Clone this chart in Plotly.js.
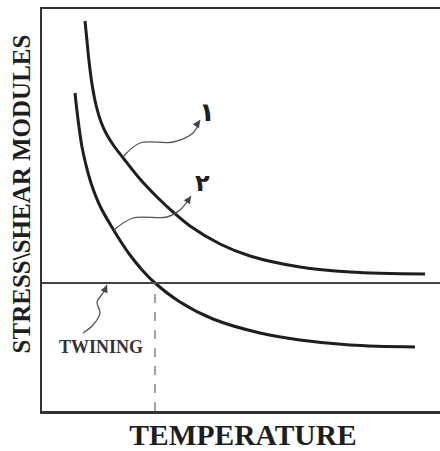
<!DOCTYPE html>
<html><head><meta charset="utf-8">
<script src="https://cdn.plot.ly/plotly-3.0.1.min.js"></script>
<style>html,body{margin:0;padding:0;overflow:hidden;background:#fff}</style>
</head><body><div id="chart"></div>
<script>
// Curve 1 (upper) : temperature vs stress (arbitrary units)
const curve1X = [43, 45, 47, 50, 54, 59, 65, 72, 82, 98, 115, 131, 148, 178, 208, 258, 308, 383];
const curve1Y = [390, 370, 350, 327, 306, 289, 276, 265, 252, 232, 214, 199, 185, 167, 155, 144, 139, 137];
// Curve 2 (lower)
const curve2X = [33, 35, 37, 40, 44, 49, 58, 71, 81, 88, 101, 113, 138, 171, 218, 258, 308, 373];
const curve2Y = [318, 300, 284, 264, 246, 228, 205, 182, 166, 156, 140, 128, 109, 92, 78, 71, 66, 64];
// Twining stress level and critical temperature
const twinLevel = 128;
const twinTemp = 113;
const xMax = 402, yMax = 402;
// Pointer paths for the labels
const ptr1X = [81, 98, 131, 151, 158];
const ptr1Y = [254, 268, 269, 278, 291];
const ptr2X = [72, 91, 125, 138, 149];
const ptr2Y = [181, 193, 194, 201, 215];
const ptrTX = [65, 61, 55, 58, 51, 41];
const ptrTY = [126, 118, 109, 98, 86, 78];
const labels = ['۱', '۲', 'TWINING'];
const labelX = [165, 160, 59];
const labelY = [299, 228, 64];

const ink = '#1e1e1e';
const traces = [
  {x: curve1X, y: curve1Y, mode: 'lines', line: {color: ink, width: 3, shape: 'spline', smoothing: 1}},
  {x: curve2X, y: curve2Y, mode: 'lines', line: {color: ink, width: 3, shape: 'spline', smoothing: 1}},
  {x: [0, xMax], y: [twinLevel, twinLevel], mode: 'lines', line: {color: '#444', width: 2}},
  {x: [twinTemp, twinTemp], y: [0, twinLevel], mode: 'lines', line: {color: '#666', width: 1.2, dash: 'dash'}},
  {x: ptr1X, y: ptr1Y, mode: 'lines', line: {color: '#555', width: 1.3, shape: 'spline'}},
  {x: ptr2X, y: ptr2Y, mode: 'lines', line: {color: '#555', width: 1.3, shape: 'spline'}},
  {x: ptrTX, y: ptrTY, mode: 'lines', line: {color: '#555', width: 1.3, shape: 'spline'}}
];

const ann = [
  {x: labelX[0], y: labelY[0], text: labels[0], showarrow: false, font: {family: 'DejaVu Sans', size: 26, color: ink, weight: 'bold'}},
  {x: labelX[1], y: labelY[1], text: labels[1], showarrow: false, font: {family: 'DejaVu Sans', size: 24, color: ink, weight: 'bold'}},
  {x: labelX[2], y: labelY[2], text: labels[2], showarrow: false, font: {family: 'Liberation Serif', size: 18, color: '#333', weight: 'bold'}},
  {x: ptr1X[ptr1X.length-1], y: ptr1Y[ptr1Y.length-1], ax: -4, ay: 6, text: '', showarrow: true, arrowhead: 2, arrowsize: 1, arrowwidth: 1.5, arrowcolor: '#444'},
  {x: ptr2X[ptr2X.length-1], y: ptr2Y[ptr2Y.length-1], ax: -4, ay: 6, text: '', showarrow: true, arrowhead: 2, arrowsize: 1, arrowwidth: 1.5, arrowcolor: '#444'},
  {x: ptrTX[0], y: ptrTY[0], ax: -3, ay: 7, text: '', showarrow: true, arrowhead: 2, arrowsize: 1, arrowwidth: 1.5, arrowcolor: '#444'},
  {xref: 'paper', yref: 'paper', x: -0.05, y: 0.541, xanchor: 'center', yanchor: 'middle', textangle: -90,
   text: 'STRESS\\SHEAR MODULES', showarrow: false,
   font: {family: 'Liberation Serif', size: 25, color: ink, weight: 'bold'}}
];

const layout = {
  width: 444, height: 451,
  margin: {l: 42, r: 0, t: 9, b: 40},
  paper_bgcolor: '#fff', plot_bgcolor: '#fff',
  showlegend: false,
  xaxis: {range: [0, xMax], showgrid: false, zeroline: false, showticklabels: false, ticks: '',
          showline: true, linecolor: '#333', linewidth: 2.5, mirror: true,
          title: {text: 'TEMPERATURE', standoff: 14, font: {family: 'Liberation Serif', size: 29.5, color: ink, weight: 'bold'}}},
  yaxis: {range: [0, yMax], showgrid: false, zeroline: false, showticklabels: false, ticks: '',
          showline: true, linecolor: '#333', linewidth: 2.5, mirror: true},
  annotations: ann
};
Plotly.newPlot('chart', traces, layout, {staticPlot: true, displayModeBar: false});
</script></body></html>
